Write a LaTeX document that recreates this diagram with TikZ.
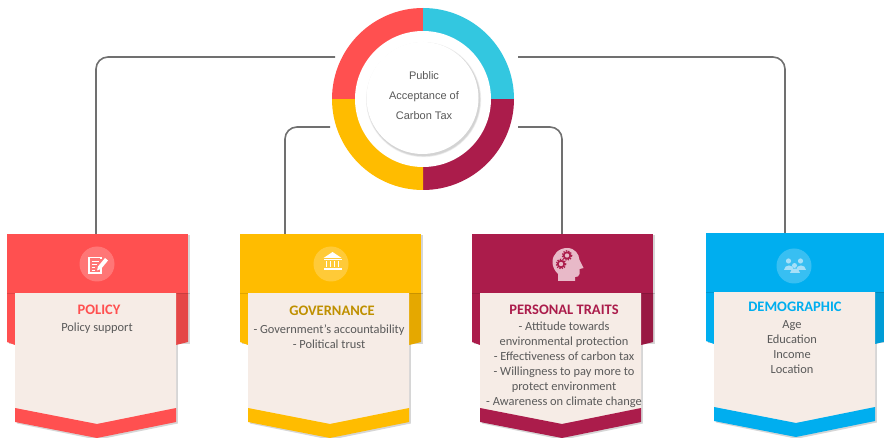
\documentclass[tikz,border=0pt]{standalone}
\usepackage{fontspec}
\setmainfont{Carlito}
\newfontfamily\ringfont{Liberation Sans}
\definecolor{cRed}{HTML}{FF5050}
\definecolor{cCyan}{HTML}{33C7E0}
\definecolor{cCrim}{HTML}{AB1C4B}
\definecolor{cYel}{HTML}{FFBC00}
\definecolor{cBlue}{HTML}{00AEEF}
\definecolor{cBody}{HTML}{F6ECE6}
\definecolor{cText}{HTML}{595959}
\definecolor{cGold}{HTML}{BF9000}
\definecolor{cLine}{HTML}{707070}
\definecolor{cPink}{HTML}{E8B9C8}
\tikzset{
  conn/.style={draw=cLine,line width=1.6pt,rounded corners=12pt},
  headbox/.style={rectangle,anchor=north west,inner sep=0pt,outer sep=0pt,minimum width=181pt,minimum height=59pt},
  cardtitle/.style={font=\fontsize{14.5}{15}\selectfont\bfseries,inner sep=0pt},
  cardbody/.style={font=\fontsize{12.4}{15}\selectfont,text=cText,align=center,inner sep=0pt},
  ringtext/.style={font=\ringfont\fontsize{11}{20}\selectfont,text=cText,align=center,inner sep=0pt},
  softsh/.style={fill=black,fill opacity=0.16,draw=none},
  iconbg/.style={circle,fill=white,fill opacity=0.22,draw=none,minimum size=35pt,inner sep=0pt}
}
% #1 name, #2 left x, #3 top y, #4 colour
\newcommand{\cardshape}[4]{%
  \begin{scope}[shift={(#2,#3)}]
    % shadows
    \fill[softsh] (1.8,1) rectangle (182.8,60);
    \fill[softsh] (1.8,59) rectangle (182.8,110);
    \fill[softsh] (9.8,59) -- (170.8,59) -- (170.8,189.5) -- (90.5,205.8) -- (9.8,189.5) -- cycle;
    % wings
    \fill[#4] (0,59) -- (181,59) -- (181,108) -- (169,111) -- (8,111) -- (0,108) -- cycle;
    \fill[black,fill opacity=0.1] (169,59) -- (181,59) -- (181,108) -- (169,111) -- cycle;
    \fill[black,fill opacity=0.12] (0,59) rectangle (181,60.5);
    % body
    \fill[cBody] (8,59) -- (169,59) -- (169,176) -- (90,190) -- (8,176) -- cycle;
    % bottom band
    \fill[#4] (8,174) -- (90,190) -- (169,174) -- (169,188) -- (90,204) -- (8,188) -- cycle;
    % header
    \node[headbox,fill=#4] (#1) at (0,0) {};
  \end{scope}}
\begin{document}
\begin{tikzpicture}[x=1pt,y=-1pt]
\useasboundingbox (0,0) rectangle (884,438);
\clip (0,0) rectangle (884,438);
\fill[white] (0,0) rectangle (884,438);
% connector ends
\coordinate (rA) at (335,57);
\coordinate (rB) at (330,127);
\coordinate (rC) at (518,127);
\coordinate (rD) at (518,57);
\coordinate (tA) at (96,235);
\coordinate (tB) at (285,235);
\coordinate (tC) at (562,235);
\coordinate (tD) at (785,234);
\draw[conn] (rA) -| (tA);
\draw[conn] (rB) -| (tB);
\draw[conn] (rC) -| (tC);
\draw[conn] (rD) -| (tD);
% cards
\cardshape{headA}{7}{234}{cRed}
\cardshape{headB}{240}{234}{cYel}
\cardshape{headC}{472}{234}{cCrim}
\cardshape{headD}{706}{233}{cBlue}
% ring
\def\cx{423}\def\cy{99}
\fill[cCrim] (\cx,\cy) -- (\cx+91,\cy) arc[start angle=0,end angle=90,radius=91] -- cycle;
\fill[cYel] (\cx,\cy) -- (\cx,\cy+91) arc[start angle=90,end angle=180,radius=91] -- cycle;
\fill[cRed] (\cx,\cy) -- (\cx-91,\cy) arc[start angle=180,end angle=270,radius=91] -- cycle;
\fill[cCyan] (\cx,\cy) -- (\cx,\cy-91) arc[start angle=270,end angle=360,radius=91] -- cycle;
\fill[white] (\cx,\cy) circle[radius=68];
\foreach \r in {57.6,57,56.5} {\fill[black,fill opacity=0.06] (\cx+0.6,\cy+0.6) circle[radius=\r];}
\fill[white] (\cx-0.5,\cy-1) circle[radius=56];
\node[ringtext] (ringlabel) at (424,96) {Public\\Acceptance of\\Carbon Tax};
% titles and bodies
\node[cardtitle,text=cRed] (titleA) at (99,310) {POLICY};
\node[cardbody] (bodyA) at (97,328) {Policy support};
\node[cardtitle,text=cGold] (titleB) at (332,311) {GOVERNANCE};
\node[cardbody] (bodyB) at (329,336.5) {- Government’s accountability\\- Political trust};
\node[cardtitle,text=cCrim] (titleC) at (564,310) {PERSONAL TRAITS};
\node[cardbody] (bodyC) at (564,365) {- Attitude towards\\environmental protection\\- Effectiveness of carbon tax\\- Willingness to pay more to\\protect environment\\- Awareness on climate change};
\node[cardtitle,text=cBlue] (titleD) at (795,307) {DEMOGRAPHIC};
\node[cardbody] (bodyD) at (792,347) {Age\\Education\\Income\\Location};
% icon discs
\node[iconbg] (discA) at (97,264) {};
\node[iconbg] (discB) at (331,264) {};
\node[iconbg] (discD) at (794,266) {};
% policy icon
\draw[white,line width=1.1pt] (101,259) -- (101,257.5) -- (89,257.5) -- (89,273) -- (101,273) -- (101,268);
\draw[white,line width=0.9pt] (91.5,261) -- (98.5,261) (91.5,264) -- (97,264) (91.5,267) -- (95,267) (91.5,270) -- (95,270);
\fill[white] (97,270.5) -- (98,266.5) -- (105,258) -- (108,260.5) -- (101,269) -- cycle;
% temple icon
\fill[white] (323.5,258) -- (332.5,252) -- (341.5,258) -- cycle;
\fill[white] (323.5,259) rectangle (341.5,260.5);
\foreach \tx in {325.5,329.5,333.5,337.5} {\fill[white] (\tx,261.5) rectangle (\tx+1.8,267);}
\fill[white] (323.5,268) rectangle (341.5,270);
% head icon
\fill[cPink] (558,281) -- (558,274) .. controls (554,270) and (552.5,266) .. (552.5,262)
  .. controls (552.5,254) and (559,248) .. (567,248)
  .. controls (575,248) and (579,254) .. (579.5,260)
  -- (583.5,268) -- (579.5,269) -- (579.5,274) .. controls (579.5,276.5) and (577,277) .. (575,277) -- (575,281) -- cycle;
\foreach \gx/\gy in {567/255.5,561/264} {
  \fill[cCrim] (\gx,\gy) circle[radius=4.2];
  \draw[cCrim,line width=1.2pt,dash pattern=on 1.3pt off 1.3pt] (\gx,\gy) circle[radius=4.8];
  \fill[cPink] (\gx,\gy) circle[radius=2.2];
}
% people icon
\definecolor{cPeople}{HTML}{A6E0F8}
\foreach \px/\py in {788.5/261,800.5/261} {
  \fill[cPeople] (\px,\py) circle[radius=2.6];
  \fill[cPeople] (\px-5,\py+9) .. controls (\px-5,\py+3) and (\px+5,\py+3) .. (\px+5,\py+9) -- cycle;
}
\fill[cPeople] (794.5,265.5) circle[radius=2.5];
\fill[cPeople] (789.5,273) .. controls (789.5,267.5) and (799.5,267.5) .. (799.5,273) -- cycle;
\end{tikzpicture}
\end{document}
